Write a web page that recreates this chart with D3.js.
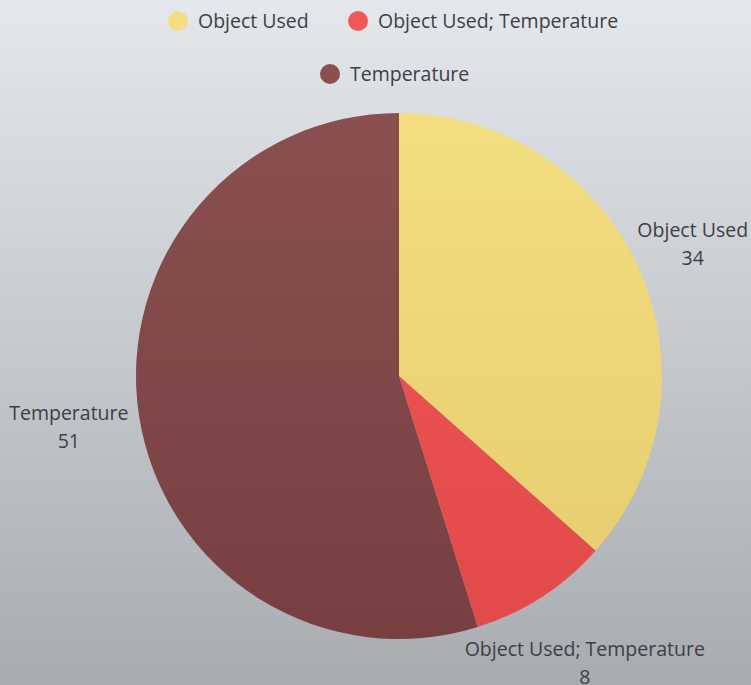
<!DOCTYPE html>
<html>
<head>
<meta charset="utf-8">
<script src="https://cdn.jsdelivr.net/npm/d3@7"></script>
<style>
    html, body { margin: 0; padding: 0; }
    body { width: 751px; height: 685px; overflow: hidden; }
    svg { display: block; font-family: "Open Sans", sans-serif; }
</style>
</head>
<body>
<div id="chart"></div>
<script>
var categories = ["Object Used", "Object Used; Temperature", "Temperature"];
var values = [34, 8, 51];
var colors = ["#f3de82", "#f05858", "#8a5050"];
var colorsDark = ["#e6cb6c", "#e24a4a", "#773f40"];

var width = 751, height = 685;
var cx = 399, cy = 376, radius = 263;

var svg = d3.select("#chart").append("svg")
    .attr("width", width)
    .attr("height", height);

var defs = svg.append("defs");

// background gradient
var bg = defs.append("linearGradient")
    .attr("id", "bg")
    .attr("x1", 0).attr("y1", 0).attr("x2", 0).attr("y2", 1);
bg.append("stop").attr("offset", "0%").attr("stop-color", "#e4e8ec");
bg.append("stop").attr("offset", "100%").attr("stop-color", "#a8abb0");

svg.append("rect")
    .attr("width", width)
    .attr("height", height)
    .attr("fill", "url(#bg)");

// slice gradients, lighter at the top of the pie
categories.forEach(function (c, i) {
    var lg = defs.append("linearGradient")
        .attr("id", "slice" + i)
        .attr("gradientUnits", "userSpaceOnUse")
        .attr("x1", 0).attr("y1", -radius)
        .attr("x2", 0).attr("y2", radius);
    lg.append("stop").attr("offset", "0%").attr("stop-color", colors[i]);
    lg.append("stop").attr("offset", "100%").attr("stop-color", colorsDark[i]);
});

var data = categories.map(function (c, i) {
    return { name: c, value: values[i], index: i };
});

var pie = d3.pie()
    .sort(null)
    .value(function (d) { return d.value; });

var arc = d3.arc()
    .innerRadius(0)
    .outerRadius(radius);

var arcs = pie(data);

var g = svg.append("g")
    .attr("transform", "translate(" + cx + "," + cy + ")");

g.selectAll("path")
    .data(arcs)
    .enter().append("path")
    .attr("d", arc)
    .attr("fill", function (d) { return "url(#slice" + d.data.index + ")"; });

// labels outside the pie
var labelRadius = [322, 342, 334];
var labels = g.selectAll(".label")
    .data(arcs)
    .enter().append("text")
    .attr("class", "label")
    .attr("text-anchor", "middle")
    .attr("font-size", 19.5)
    .attr("fill", "#3d3f44")
    .attr("transform", function (d) {
        var a = (d.startAngle + d.endAngle) / 2;
        var r = labelRadius[d.data.index];
        return "translate(" + (Math.sin(a) * r) + "," + (-Math.cos(a) * r) + ")";
    });

labels.append("tspan")
    .attr("x", 0)
    .attr("y", -7)
    .text(function (d) { return d.data.name; });

labels.append("tspan")
    .attr("x", 0)
    .attr("y", 21)
    .text(function (d) { return d.data.value; });

// legend
var legendPos = [
    { x: 178, y: 21 },
    { x: 358, y: 21 },
    { x: 330, y: 74 }
];

var legend = svg.append("g")
    .selectAll("g")
    .data(data)
    .enter().append("g")
    .attr("transform", function (d, i) {
        return "translate(" + legendPos[i].x + "," + legendPos[i].y + ")";
    });

legend.append("circle")
    .attr("r", 10)
    .attr("fill", function (d) { return colors[d.index]; });

legend.append("text")
    .attr("x", 20)
    .attr("dy", "0.35em")
    .attr("font-size", 19.5)
    .attr("fill", "#3d3f44")
    .text(function (d) { return d.name; });
</script>
</body>
</html>
